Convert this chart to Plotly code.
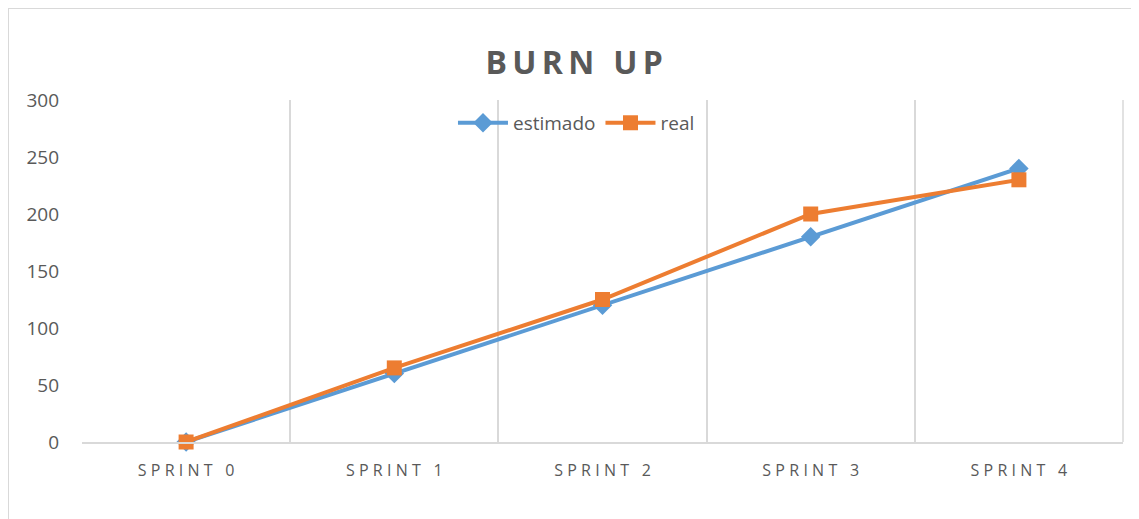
import plotly.graph_objects as go

# Burn up chart data
sprints = ["SPRINT 0", "SPRINT 1", "SPRINT 2", "SPRINT 3", "SPRINT 4"]
estimado = [0, 60, 120, 180, 240]
real = [0, 65, 125, 200, 230]
y_ticks = [0, 50, 100, 150, 200, 250, 300]


def spaced(s, sep="\u2009"):
    # fake letter-spacing with thin spaces
    return sep.join(s)


fig = go.Figure()

fig.add_trace(go.Scatter(
    x=sprints, y=estimado,
    mode="lines+markers",
    name="estimado",
    line=dict(color="#5B9BD5", width=4),
    marker=dict(symbol="diamond", size=15, color="#5B9BD5"),
    cliponaxis=False,
))

fig.add_trace(go.Scatter(
    x=sprints, y=real,
    mode="lines+markers",
    name="real",
    line=dict(color="#ED7D31", width=4),
    marker=dict(symbol="square", size=15, color="#ED7D31"),
    cliponaxis=False,
))

# outer chart frame (only top/left visible in the reference)
fig.add_shape(
    type="rect", xref="paper", yref="paper",
    x0=-0.0711, x1=1.2, y0=-0.6, y1=1.269,
    line=dict(color="#d9d9d9", width=2),
    layer="below",
)

fig.update_layout(
    width=1139, height=519,
    paper_bgcolor="white",
    plot_bgcolor="white",
    margin=dict(l=74, r=24, t=92, b=85),
    title=dict(
        text="<b>" + spaced("BURN UP", "\u2009") + "</b>",
        x=0.497, xanchor="center",
        y=0.895, yanchor="middle",
        font=dict(family="Open Sans", size=32, color="#595959"),
    ),
    font=dict(family="Open Sans", color="#595959"),
    legend=dict(
        orientation="h",
        x=0.475, xanchor="center",
        y=0.933, yanchor="middle",
        bgcolor="rgba(0,0,0,0)",
        font=dict(family="Open Sans", size=19, color="#595959"),
        itemwidth=50,
    ),
    showlegend=True,
    xaxis=dict(
        type="category",
        range=[-0.5, 4.5],
        tickmode="array",
        tickvals=sprints,
        ticktext=[spaced(s, "\u2009\u200a") for s in sprints],
        tickson="boundaries",
        ticks="",
        showgrid=True,
        gridcolor="#d9d9d9",
        gridwidth=1.5,
        showline=True,
        linecolor="#d9d9d9",
        linewidth=1.5,
        mirror=False,
        tickfont=dict(family="Open Sans", size=16, color="#595959"),
        ticklabelstandoff=13,
        zeroline=False,
    ),
    yaxis=dict(
        range=[0, 300],
        tickvals=y_ticks,
        showgrid=False,
        zeroline=False,
        showline=False,
        ticks="",
        tickfont=dict(family="Open Sans", size=19, color="#595959"),
        ticklabelstandoff=22,
    ),
)

# right edge of the plot area
fig.add_shape(
    type="line", xref="paper", yref="paper",
    x0=1, x1=1, y0=0, y1=1,
    line=dict(color="#d9d9d9", width=1.5),
    layer="below",
)

fig.write_html("out.html")
